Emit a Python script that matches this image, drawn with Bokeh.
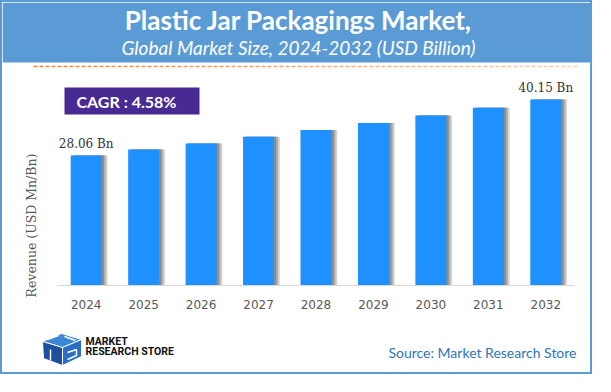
import numpy as np
from bokeh.plotting import figure
from bokeh.layouts import column, row
from bokeh.models import Range1d, FixedTicker, ColumnDataSource
from bokeh.transform import dodge
from bokeh.core.properties import value
from bokeh.embed import file_html
from bokeh.resources import INLINE

# ---------------- data ----------------
years = [2024, 2025, 2026, 2027, 2028, 2029, 2030, 2031, 2032]
revenue = [28.06, 29.35, 30.69, 32.10, 33.57, 35.11, 36.72, 38.40, 40.15]
year_labels = ["2024", "2025", "2026", "2027", "2028", "2029", "2030", "2031", "2032"]
title_text = "Plastic Jar Packagings Market,"
subtitle_text = "Global Market Size, 2024-2032 (USD Billion)"
cagr_text = "CAGR : 4.58%"
y_label_text = "Revenue (USD Mn/Bn)"
source_text = "Source: Market Research Store"
logo_line1 = "MARKET"
logo_line2 = "RESEARCH STORE"

BLUE_BAND = "#5B9BD5"
BAR = "#1E90FF"
W = 588


def bare(fig):
    fig.grid.visible = False
    fig.outline_line_color = None
    fig.background_fill_color = "white"
    fig.border_fill_color = "white"
    fig.frame_align = False
    return fig


# ---------------- title ----------------
TH = 66
tf = bare(figure(width=W, height=TH, x_range=Range1d(0, W), y_range=Range1d(0, TH),
                 toolbar_location=None, output_backend="svg", min_border=0,
                 x_axis_location=None, y_axis_location=None))
tf.quad(left=[0], right=[W], bottom=[6], top=[TH], fill_color=BLUE_BAND, line_color=None)
tf.text(x=[296], y=[49], text=[title_text], text_font=value("Lato"), text_font_style="bold",
        text_font_size="26px", text_color="white", text_align="center", text_baseline="middle")
tf.text(x=[296], y=[21], text=[subtitle_text], text_font=value("Lato"), text_font_style="italic",
        text_font_size="19px", text_color="white", text_align="center", text_baseline="middle")
# gradient dashed separator
x0s = np.arange(31, 572, 6.0)
c0 = np.array([242, 133, 50])
c1 = np.array([250, 210, 175])
cols = []
for i in range(len(x0s)):
    t = i / (len(x0s) - 1)
    c = (c0 + (c1 - c0) * t).astype(int)
    cols.append("#%02x%02x%02x" % tuple(c))
tf.segment(x0=x0s, y0=[2] * len(x0s), x1=x0s + 4, y1=[2] * len(x0s), line_color=cols, line_width=1.5)

# ---------------- y label panel ----------------
MH = 256
LW = 55
lf = bare(figure(width=LW, height=MH, x_range=Range1d(0, LW), y_range=Range1d(0, MH),
                 toolbar_location=None, output_backend="svg", min_border=0,
                 x_axis_location=None, y_axis_location=None))
lf.text(x=[29], y=[99], text=[y_label_text], angle=np.pi / 2, text_font=value("DejaVu Serif"),
        text_font_size="12.5px", text_color="#595959", text_align="center", text_baseline="middle")

# ---------------- main chart ----------------
YMAX = 44.7
mf = bare(figure(width=W - LW, height=MH, x_range=Range1d(2023.5, 2032.5), y_range=Range1d(0, YMAX),
                 toolbar_location=None, output_backend="svg",
                 min_border_left=0, min_border_right=16, min_border_top=10, min_border_bottom=39,
                 y_axis_location=None))
src = ColumnDataSource(dict(year=years, revenue=revenue))
for off, col in [(0.10, "#d4d4d4"), (0.07, "#b0b0b0"), (0.04, "#8c8c8c")]:
    mf.vbar(x=dodge("year", off), top="revenue", width=0.54, source=src,
            fill_color=col, line_color=None)
mf.vbar(x="year", top="revenue", width=0.54, source=src, fill_color=BAR, line_color=None)

lab_src = ColumnDataSource(dict(year=[years[0], years[-1]], revenue=[revenue[0], revenue[-1]],
                                txt=["%.2f Bn" % revenue[0], "%.2f Bn" % revenue[-1]]))
mf.text(x="year", y="revenue", text="txt", source=lab_src, y_offset=-5,
        text_font=value("DejaVu Serif"), text_font_size="12px", text_color="#333333",
        text_align="center", text_baseline="bottom")


# CAGR box (pixel -> data helpers)
def px2x(px):
    return 2023.5 + (px - 65) / 517 * 9


def py2y(py):
    return (293 - py) / 207 * YMAX


mf.quad(left=[px2x(72)], right=[px2x(207)], top=[py2y(95)], bottom=[py2y(122)],
        fill_color="#482A93", line_color=None)
mf.text(x=[px2x(84)], y=[py2y(108.5)], text=[cagr_text], text_font=value("Lato"),
        text_font_style="bold", text_font_size="16px", text_color="white",
        text_align="left", text_baseline="middle")

ax = mf.xaxis[0]
ax.ticker = FixedTicker(ticks=years)
ax.major_label_overrides = {y: l for y, l in zip(years, year_labels)}
ax.major_tick_line_color = None
ax.minor_tick_line_color = None
ax.axis_line_color = "#d9d9d9"
ax.major_label_standoff = 8
ax.major_label_text_font = "DejaVu Sans"
ax.major_label_text_font_size = "12px"
ax.major_label_text_color = "#595959"

# ---------------- footer ----------------
FH = 48
ff = bare(figure(width=W, height=FH, x_range=Range1d(0, W), y_range=Range1d(0, FH),
                 toolbar_location=None, output_backend="svg", min_border=0,
                 x_axis_location=None, y_axis_location=None))


def P(pts):
    return [p[0] - 10 for p in pts], [380 - p[1] for p in pts]


top_face = P([(50, 349), (69, 341), (89, 347), (70, 355)])
left_face = P([(50, 349), (70, 355), (70, 373), (51, 366)])
right_face = P([(70, 355), (89, 347), (89, 364), (70, 373)])
ff.patch(*top_face, fill_color="#3C86D8", line_color="white", line_width=1)
ff.patch(*left_face, fill_color="#1D4F9C", line_color="white", line_width=1)
ff.patch(*right_face, fill_color="#2B6CC4", line_color="white", line_width=1)
# stylised letter strokes on faces
sx, sy = P([(55, 347), (66, 343)])
ff.line(sx, sy, line_color="white", line_width=1.5)
sx, sy = P([(72, 344), (83, 348)])
ff.line(sx, sy, line_color="white", line_width=1.5)
sx, sy = P([(58, 357), (58, 368)])
ff.line(sx, sy, line_color="white", line_width=1.5)
sx, sy = P([(75, 360), (84, 357), (84, 363), (75, 367)])
ff.line(sx, sy, line_color="white", line_width=1.5)

ff.text(x=[83], y=[380 - 349], text=[logo_line1], text_font=value("Roboto"), text_font_style="bold",
        text_font_size="10.5px", text_color="#111111", text_align="left", text_baseline="middle")
ff.text(x=[83], y=[380 - 358.5], text=[logo_line2], text_font=value("Roboto"), text_font_style="bold",
        text_font_size="10.5px", text_color="#111111", text_align="left", text_baseline="middle")
ff.text(x=[574], y=[380 - 360], text=[source_text], text_font=value("Lato"),
        text_font_size="14px", text_color="#2E75B6", text_align="right", text_baseline="middle")

layout = column(tf, row(lf, mf), ff, styles={"border": "2px solid #5B9BD5"})

with open("out.html", "w") as f:
    f.write(file_html(layout, INLINE))
